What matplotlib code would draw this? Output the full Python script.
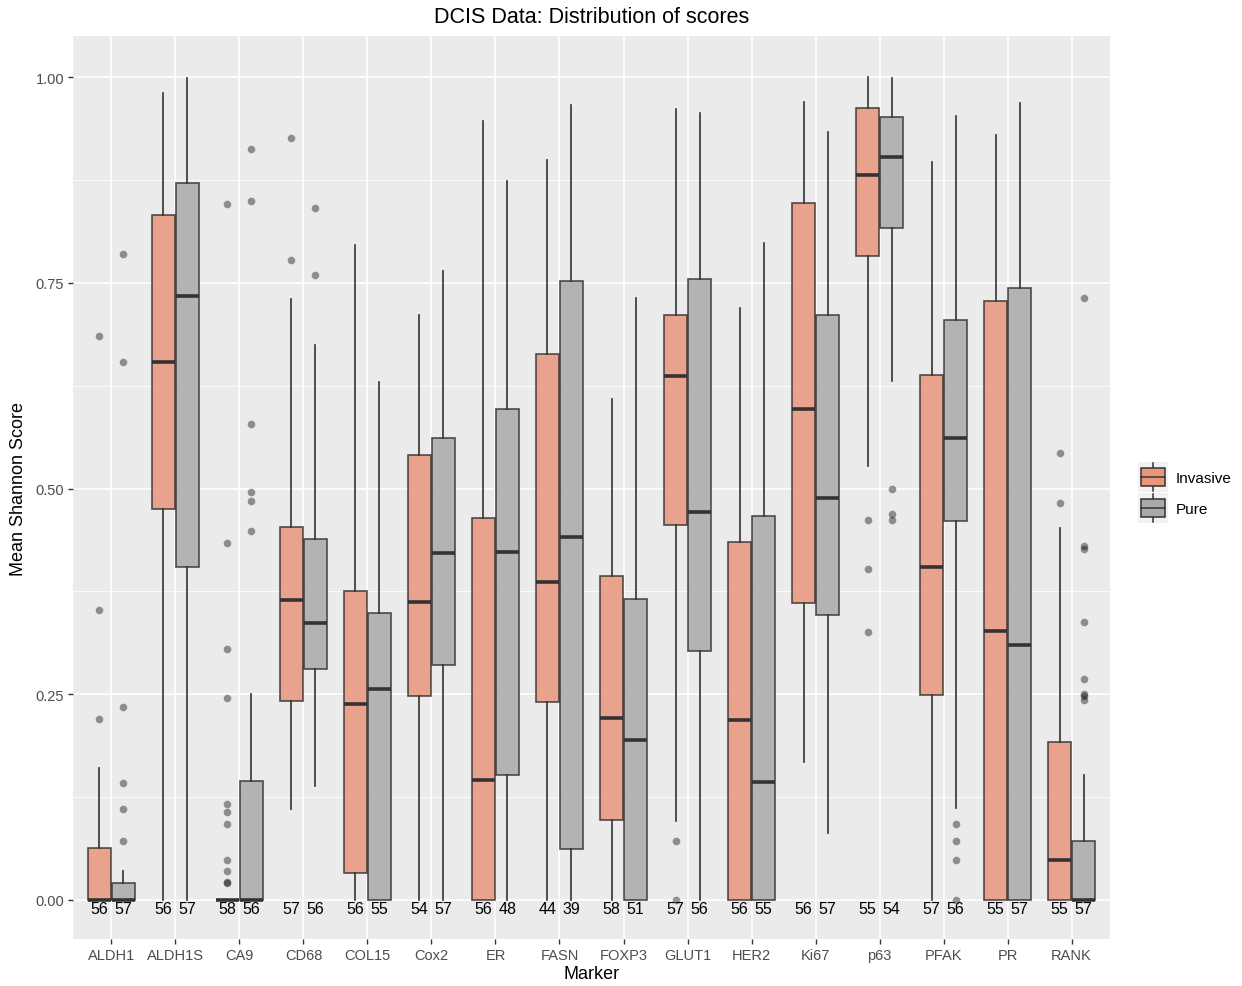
import matplotlib
matplotlib.use("Agg")
import matplotlib.pyplot as plt
from matplotlib.legend_handler import HandlerBase
from matplotlib.patches import Rectangle
from matplotlib.lines import Line2D

plt.rcParams["font.family"] = ["Liberation Sans", "DejaVu Sans"]

# five-number summaries, one entry per marker
markers = ["ALDH1", "ALDH1S", "CA9", "CD68", "COL15", "Cox2", "ER", "FASN",
           "FOXP3", "GLUT1", "HER2", "Ki67", "p63", "PFAK", "PR", "RANK"]

inv_lo = [0, 0, 0, 0.111, 0, 0, 0, 0, 0, 0.096, 0, 0.168, 0.527, 0, 0, 0]
inv_q1 = [0, 0.475, 0, 0.242, 0.033, 0.248, 0, 0.240, 0.097, 0.456, 0, 0.361, 0.783, 0.249, 0, 0]
inv_med = [0, 0.654, 0, 0.365, 0.238, 0.362, 0.146, 0.386, 0.221, 0.637, 0.219, 0.597, 0.881, 0.405, 0.327, 0.049]
inv_q3 = [0.063, 0.832, 0, 0.453, 0.376, 0.541, 0.464, 0.664, 0.394, 0.711, 0.435, 0.847, 0.963, 0.638, 0.728, 0.192]
inv_hi = [0.160, 0.981, 0, 0.730, 0.796, 0.711, 0.947, 0.899, 0.609, 0.961, 0.719, 0.970, 1.0, 0.897, 0.930, 0.452]
inv_n = [56, 56, 58, 57, 56, 54, 56, 44, 58, 57, 56, 56, 55, 57, 55, 55]
inv_out = [
    [0.220, 0.352, 0.686],
    [],
    [0.846, 0.434, 0.305, 0.246, 0.117, 0.107, 0.092, 0.049, 0.035, 0.020, 0.022],
    [0.778, 0.926],
    [], [], [], [], [],
    [0.072, 0.0],
    [], [],
    [0.462, 0.402, 0.326],
    [], [],
    [0.482, 0.543],
]

pure_lo = [0, 0, 0, 0.138, 0, 0, 0, 0, 0, 0, 0, 0.081, 0.631, 0.112, 0, 0]
pure_q1 = [0, 0.405, 0, 0.281, 0, 0.285, 0.152, 0.062, 0, 0.302, 0, 0.346, 0.817, 0.460, 0, 0]
pure_med = [0, 0.734, 0, 0.337, 0.256, 0.422, 0.423, 0.441, 0.194, 0.471, 0.143, 0.488, 0.903, 0.562, 0.310, 0]
pure_q3 = [0.020, 0.871, 0.144, 0.439, 0.349, 0.561, 0.597, 0.752, 0.366, 0.755, 0.467, 0.711, 0.952, 0.705, 0.744, 0.072]
pure_hi = [0.035, 0.999, 0.250, 0.674, 0.630, 0.765, 0.874, 0.966, 0.731, 0.957, 0.798, 0.933, 0.999, 0.953, 0.968, 0.152]
pure_n = [57, 57, 56, 56, 55, 57, 48, 39, 51, 56, 55, 57, 54, 56, 57, 57]
pure_out = [
    [0.072, 0.111, 0.142, 0.235, 0.654, 0.785],
    [],
    [0.448, 0.485, 0.496, 0.579, 0.849, 0.913],
    [0.760, 0.841],
    [], [], [], [], [], [], [], [],
    [0.500, 0.469, 0.462],
    [0.092, 0.072, 0.049, 0.0],
    [],
    [0.731, 0.430, 0.426, 0.338, 0.269, 0.250, 0.248, 0.243],
]

INV_COL = "darksalmon"
PURE_COL = "darkgray"
EDGE = "#333333"


def make_stats(lo, q1, med, q3, hi, out):
    return [dict(whislo=a, q1=b, med=c, q3=d, whishi=e, fliers=f)
            for a, b, c, d, e, f in zip(lo, q1, med, q3, hi, out)]


class BoxHandler(HandlerBase):
    # ggplot-like key: grey square, box with median line and whisker stubs
    def create_artists(self, legend, orig_handle, xdescent, ydescent,
                       width, height, fontsize, trans):
        col = orig_handle.get_facecolor()
        x0 = -xdescent
        y0 = -ydescent
        cx = x0 + width / 2
        bw = width * 0.8
        bh = height * 0.6
        by = y0 + (height - bh) / 2
        arts = [
            Rectangle((x0, y0), width, height, facecolor="#F2F2F2", edgecolor="none"),
            Line2D([cx, cx], [y0 + height * 0.02, y0 + height * 0.98], color=EDGE, lw=1.1),
            Rectangle((cx - bw / 2, by), bw, bh, facecolor=col, edgecolor=EDGE, lw=1.1),
            Line2D([cx - bw / 2, cx + bw / 2], [y0 + height / 2] * 2, color=EDGE, lw=1.1),
        ]
        for a in arts:
            a.set_transform(trans)
        return arts


fig = plt.figure(figsize=(12.42, 9.87), dpi=100)
ax = fig.add_axes([0.0588, 0.0476, 0.8349, 0.9149])
ax.set_facecolor("#EBEBEB")
for s in ax.spines.values():
    s.set_visible(False)

pos = list(range(1, len(markers) + 1))
groups = [
    (make_stats(inv_lo, inv_q1, inv_med, inv_q3, inv_hi, inv_out), -0.1875, INV_COL, inv_n),
    (make_stats(pure_lo, pure_q1, pure_med, pure_q3, pure_hi, pure_out), 0.1875, PURE_COL, pure_n),
]
for stats, off, col, ns in groups:
    ax.bxp(stats, positions=[p + off for p in pos], widths=0.35,
           patch_artist=True, showcaps=False, manage_ticks=False,
           boxprops=dict(facecolor=col, edgecolor=EDGE, linewidth=1.2, alpha=0.85),
           medianprops=dict(color=EDGE, linewidth=2.6, solid_capstyle="butt"),
           whiskerprops=dict(color=EDGE, linewidth=1.2),
           flierprops=dict(marker="o", markerfacecolor="black", markeredgecolor="none",
                           markersize=5.5, alpha=0.4))
    for p, n in zip(pos, ns):
        ax.text(p + off, -0.01, str(n), ha="center", va="center",
                fontsize=11.5, color="black", zorder=5)

ax.set_xlim(0.4, len(markers) + 0.6)
ax.set_ylim(-0.0475, 1.05)
ax.set_xticks(pos)
ax.set_xticklabels(markers)
ax.set_yticks([0, 0.25, 0.5, 0.75, 1.0])
ax.set_yticklabels(["0.00", "0.25", "0.50", "0.75", "1.00"])
ax.set_yticks([0.125, 0.375, 0.625, 0.875], minor=True)
ax.grid(True, which="major", color="white", linewidth=1.2)
ax.grid(True, which="minor", axis="y", color="white", linewidth=0.6)
ax.set_axisbelow(True)
ax.tick_params(axis="both", which="major", length=3.5, width=1, color="#333333",
               labelsize=10.5, labelcolor="#4D4D4D", pad=3)
ax.tick_params(axis="y", which="minor", length=0)

ax.set_xlabel("Marker", fontsize=13, labelpad=2)
ax.set_ylabel("Mean Shannon Score", fontsize=13, labelpad=6)
ax.set_title("DCIS Data: Distribution of scores", fontsize=15.5, pad=10)

h_inv = Rectangle((0, 0), 1, 1, facecolor=INV_COL)
h_pure = Rectangle((0, 0), 1, 1, facecolor=PURE_COL)
leg = fig.legend([h_inv, h_pure], ["Invasive", "Pure"], loc="center left",
                 bbox_to_anchor=(0.916, 0.5), frameon=False, fontsize=11,
                 handler_map={Rectangle: BoxHandler()}, handlelength=2.0,
                 handleheight=2.6, labelspacing=0.1, handletextpad=0.5,
                 borderpad=0, borderaxespad=0)

fig.savefig("out.png", dpi=100)
